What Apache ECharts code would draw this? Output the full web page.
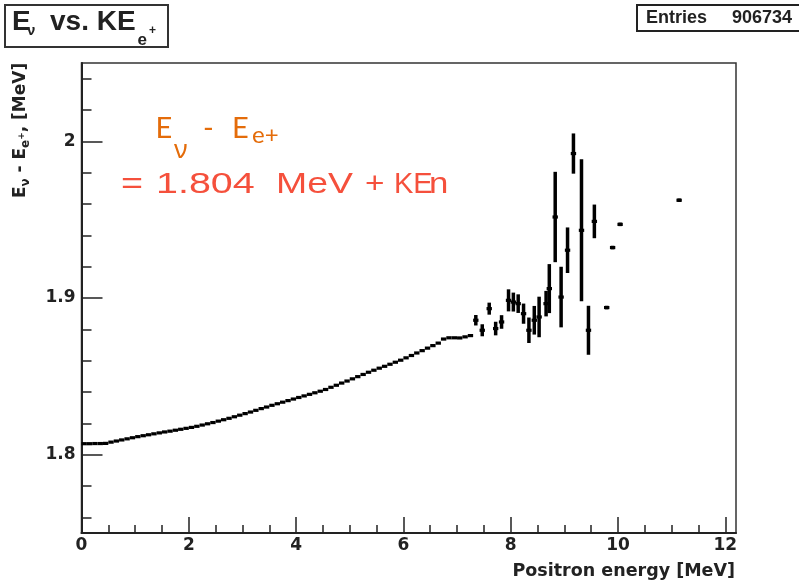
<!DOCTYPE html>
<html>
<head>
<meta charset="utf-8">
<title>Ev vs KEe+</title>
<script src="https://cdn.jsdelivr.net/npm/echarts@6.0.0/dist/echarts.min.js"></script>
<style>
    html, body { margin: 0; padding: 0; background: #fff; }
    #main { width: 799px; height: 581px; }
</style>
</head>
<body>
<div id="main"></div>
<script>
    // profile bins below ~7.3 MeV (bin width 0.1 MeV), errors too small to see
    var smoothCenters = [
        0.05, 0.15, 0.25, 0.35, 0.45, 0.55, 0.65, 0.75, 0.85, 0.95,
        1.05, 1.15, 1.25, 1.35, 1.45, 1.55, 1.65, 1.75, 1.85, 1.95,
        2.05, 2.15, 2.25, 2.35, 2.45, 2.55, 2.65, 2.75, 2.85, 2.95,
        3.05, 3.15, 3.25, 3.35, 3.45, 3.55, 3.65, 3.75, 3.85, 3.95,
        4.05, 4.15, 4.25, 4.35, 4.45, 4.55, 4.65, 4.75, 4.85, 4.95,
        5.05, 5.15, 5.25, 5.35, 5.45, 5.55, 5.65, 5.75, 5.85, 5.95,
        6.05, 6.15, 6.25, 6.35, 6.45, 6.55, 6.65, 6.75, 6.85, 6.95,
        7.05, 7.15, 7.25
    ];
    var smoothMeans = [
        1.8070, 1.8070, 1.8071, 1.8071, 1.8072, 1.8080, 1.8087, 1.8094, 1.8101, 1.8108,
        1.8115, 1.8121, 1.8127, 1.8133, 1.8139, 1.8145, 1.8150, 1.8156, 1.8162, 1.8168,
        1.8174, 1.8181, 1.8189, 1.8197, 1.8205, 1.8214, 1.8223, 1.8232, 1.8242, 1.8252,
        1.8262, 1.8272, 1.8283, 1.8294, 1.8304, 1.8315, 1.8325, 1.8335, 1.8345, 1.8355,
        1.8365, 1.8375, 1.8385, 1.8395, 1.8405, 1.8416, 1.8430, 1.8443, 1.8457, 1.8470,
        1.8484, 1.8498, 1.8512, 1.8526, 1.8539, 1.8552, 1.8564, 1.8577, 1.8590, 1.8603,
        1.8618, 1.8633, 1.8649, 1.8664, 1.8680, 1.8696, 1.8712, 1.8738, 1.8746, 1.8746,
        1.8745, 1.8752, 1.8760
    ];

    // sparse bins at high positron energy, with error bars
    var tailCenters = [
        7.35, 7.47, 7.60, 7.72, 7.83, 7.96, 8.05, 8.14, 8.24, 8.34,
        8.44, 8.53, 8.66, 8.72, 8.83, 8.94, 9.06, 9.17, 9.32, 9.45,
        9.56, 9.79, 9.90, 10.04, 11.14
    ];
    var tailMeans = [
        1.8858, 1.8794, 1.8932, 1.8805, 1.8847, 1.8985, 1.8974, 1.8964, 1.8900, 1.8794,
        1.8858, 1.8879, 1.8964, 1.9060, 1.9517, 1.9006, 1.9305, 1.9922, 1.9432, 1.8794,
        1.9489, 1.8939, 1.9322, 1.9470, 1.9624
    ];
    var tailErrors = [
        0.0027, 0.0032, 0.0032, 0.0037, 0.0037, 0.0064, 0.0054, 0.0053, 0.0058, 0.0075,
        0.0085, 0.0123, 0.0075, 0.0150, 0.0282, 0.0187, 0.0139, 0.0122, 0.0447, 0.0150,
        0.0101, 0.0005, 0.0005, 0.0005, 0.0005
    ];

    var xMajorTicks = [0, 2, 4, 6, 8, 10, 12];
    var xMinorTicks = [0.5, 1, 1.5, 2.5, 3, 3.5, 4.5, 5, 5.5, 6.5, 7, 7.5, 8.5, 9, 9.5, 10.5, 11, 11.5];
    var yMajorTicks = [1.8, 1.9, 2];
    var yMinorTicks = [1.76, 1.78, 1.82, 1.84, 1.86, 1.88, 1.92, 1.94, 1.96, 1.98, 2.02, 2.04];

    var HALF_BIN = 0.05;
    var INK = '#222';
    var labelFont = {fontFamily: 'DejaVu Sans', fontWeight: 'bold', fontSize: 17, color: INK};

    // one profile bin: horizontal bar over the bin width + vertical error bar
    function renderBin(params, api) {
        var x = api.value(0), y = api.value(1), e = api.value(2);
        var l = api.coord([x - HALF_BIN, y]);
        var r = api.coord([x + HALF_BIN, y]);
        var kids = [{
            type: 'line',
            shape: {x1: l[0], y1: l[1], x2: r[0], y2: r[1]},
            style: {stroke: '#000', lineWidth: 3.2}
        }];
        if (e > 0) {
            var t = api.coord([x, y + e]);
            var b = api.coord([x, y - e]);
            kids.push({
                type: 'line',
                shape: {x1: t[0], y1: t[1] - 1, x2: b[0], y2: b[1] + 1},
                style: {stroke: '#000', lineWidth: 3.5}
            });
        }
        return {type: 'group', children: kids};
    }

    function axisBase(pos, min, max) {
        return {
            type: 'value', position: pos, min: min, max: max,
            axisLine: {show: true, onZero: false, lineStyle: {color: INK, width: 2}},
            splitLine: {show: false},
            splitArea: {show: false}
        };
    }

    var xMain = axisBase('bottom', 0, 12.2);
    xMain.axisTick = {show: true, inside: true, length: 16, customValues: xMajorTicks, lineStyle: {color: INK, width: 1.5}};
    xMain.axisLabel = Object.assign({show: true, margin: 4, customValues: xMajorTicks}, labelFont);
    var xMinor = axisBase('bottom', 0, 12.2);
    xMinor.axisLine.show = false;
    xMinor.axisTick = {show: true, inside: true, length: 8, customValues: xMinorTicks, lineStyle: {color: INK, width: 1.5}};
    xMinor.axisLabel = {show: false};

    var yMain = axisBase('left', 1.75, 2.05);
    yMain.axisTick = {show: true, inside: true, length: 21, customValues: yMajorTicks, lineStyle: {color: INK, width: 1.5}};
    yMain.axisLabel = Object.assign({show: true, margin: 6, customValues: yMajorTicks}, labelFont);
    var yMinor = axisBase('left', 1.75, 2.05);
    yMinor.axisLine.show = false;
    yMinor.axisTick = {show: true, inside: true, length: 10, customValues: yMinorTicks, lineStyle: {color: INK, width: 1.5}};
    yMinor.axisLabel = {show: false};

    function txt(x, y, s, font, color, extra) {
        var o = {type: 'text', x: x, y: y, style: {text: s, font: font, fill: color || INK, verticalAlign: 'middle'}};
        return Object.assign(o, extra || {});
    }

    var ORANGE = '#e46c0a';
    var RED = '#f5503c';
    var lato = '"Lato", "Noto Sans", sans-serif';
    var lib = '"Liberation Sans", Arial, sans-serif';

    var chart = echarts.init(document.getElementById('main'), null, {renderer: 'canvas'});
    var option = {
        animation: false,
        backgroundColor: '#fff',
        grid: {
            left: 81.5, right: 63, top: 63, bottom: 48,
            show: true, borderColor: '#333', borderWidth: 1.5,
            outerBoundsMode: 'none'
        },
        xAxis: [xMain, xMinor],
        yAxis: [yMain, yMinor],
        series: [
            {
                type: 'custom', name: 'profile', renderItem: renderBin, silent: true,
                encode: {x: 0, y: 1},
                data: smoothCenters.map(function (x, i) { return [x, smoothMeans[i], 0]; })
            },
            {
                type: 'custom', name: 'tail', renderItem: renderBin, silent: true,
                encode: {x: 0, y: 1},
                data: tailCenters.map(function (x, i) { return [x, tailMeans[i], tailErrors[i]]; })
            }
        ],
        graphic: [
            // histogram title box
            {type: 'rect', shape: {x: 5, y: 5, width: 163, height: 42}, style: {fill: '#fff', stroke: '#333', lineWidth: 2}},
            txt(12, 22, 'E', 'bold 28px ' + lib),
            txt(27, 31, 'ν', 'bold 15px ' + lib),
            txt(50, 22, 'vs. KE', 'bold 28px ' + lib),
            txt(137.5, 40, 'e', 'bold 17px ' + lib),
            txt(149, 31, '+', 'bold 12px ' + lib),
            // stats box
            {type: 'rect', shape: {x: 637, y: 5, width: 175, height: 26}, style: {fill: '#fff', stroke: '#222', lineWidth: 2}},
            txt(646, 18.5, 'Entries', 'bold 18px ' + lib),
            txt(792, 18.5, '906734', 'bold 18px ' + lib, INK, {style: {text: '906734', font: 'bold 18px ' + lib, fill: INK, verticalAlign: 'middle', align: 'right'}}),
            // x axis title
            txt(735, 571, 'Positron energy [MeV]', 'bold 17.5px "DejaVu Sans"', INK,
                {style: {text: 'Positron energy [MeV]', font: 'bold 17.5px "DejaVu Sans"', fill: INK, verticalAlign: 'middle', align: 'right'}}),
            // y axis title, rotated
            {
                type: 'group', x: 21, y: 198, rotation: Math.PI / 2,
                children: [
                    txt(0, 0, 'E', 'bold 17px "DejaVu Sans"'),
                    txt(11.6, 5, 'ν', 'bold 12px "DejaVu Sans"'),
                    txt(19.6, 0, ' - E', 'bold 17px "DejaVu Sans"'),
                    txt(50.1, 5, 'e', 'bold 12px "DejaVu Sans"'),
                    txt(58.2, 1, '+', 'bold 9px "DejaVu Sans"'),
                    txt(65.7, 0, ', [MeV]', 'bold 17px "DejaVu Sans"')
                ]
            },
            // annotation
            txt(155.5, 128.7, 'E', '29px ' + lato, ORANGE),
            txt(174, 151, 'ν', '26px "Noto Sans", sans-serif', ORANGE),
            txt(203, 128.7, '-', '29px ' + lato, ORANGE),
            txt(232, 128.7, 'E', '29px ' + lato, ORANGE),
            txt(252, 135.6, 'e+', '24px ' + lato, ORANGE),
            txt(121, 185, '=', '29px ' + lib, RED, {scaleX: 1.3}),
            txt(156, 185, '1.804', '29px ' + lib, RED, {scaleX: 1.36}),
            txt(276, 185, 'MeV', '29px ' + lib, RED, {scaleX: 1.29}),
            txt(365, 185, '+', '29px ' + lib, RED, {scaleX: 1.15}),
            txt(394, 185, 'KE', '29px ' + lib, RED),
            txt(429, 185, 'n', '29px ' + lib, RED, {scaleX: 1.2})
        ]
    };
    chart.setOption(option);
    window.addEventListener('resize', chart.resize);
</script>
</body>
</html>
